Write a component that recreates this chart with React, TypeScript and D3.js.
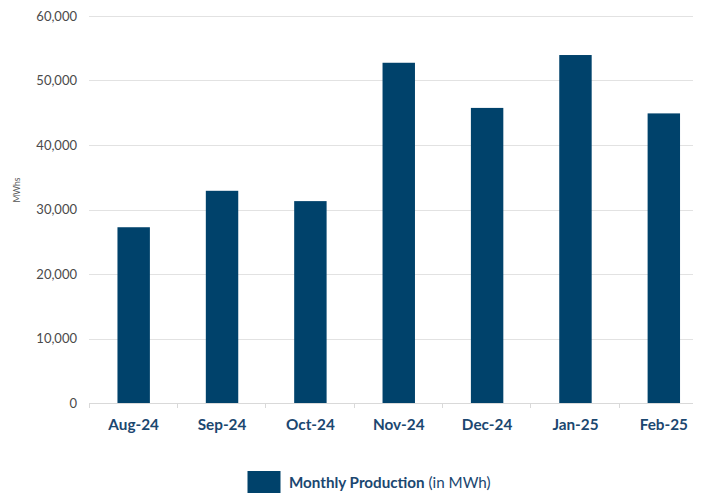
import React, { useRef, useEffect } from 'react';
import * as d3 from 'd3';

const months = ['Aug-24', 'Sep-24', 'Oct-24', 'Nov-24', 'Dec-24', 'Jan-25', 'Feb-25'];
const production = [27250, 32900, 31300, 52750, 45750, 53950, 44900];
const yTicks = [0, 10000, 20000, 30000, 40000, 50000, 60000];

export default function App() {
    const svgRef = useRef<SVGSVGElement>(null);

    useEffect(() => {
        const width = 703, height = 493;
        const svg = d3.select(svgRef.current);
        svg.selectAll('*').remove();

        const navy = '#00426b';
        const font = 'Lato, "Open Sans", sans-serif';

        // plot area runs a bit past the right edge, like the original crop
        const x = d3.scaleBand()
            .domain(months)
            .range([89.5, 708])
            .paddingInner(0.633)
            .paddingOuter(0.3165);

        const y = d3.scaleLinear()
            .domain([0, 60000])
            .range([403, 16]);

        // gridlines
        svg.append('g')
            .selectAll('line')
            .data(yTicks.filter(d => d > 0))
            .enter().append('line')
            .attr('x1', 89).attr('x2', 693)
            .attr('y1', d => Math.round(y(d)) + 0.5)
            .attr('y2', d => Math.round(y(d)) + 0.5)
            .attr('stroke', '#e2e2e2')
            .attr('stroke-width', 1);

        // y tick labels
        svg.append('g')
            .selectAll('text')
            .data(yTicks)
            .enter().append('text')
            .attr('x', 77)
            .attr('y', d => y(d) + 4.5)
            .attr('text-anchor', 'end')
            .attr('font-family', font)
            .attr('font-size', 13)
            .attr('fill', '#4a4a4a')
            .text(d => d3.format(',')(d));

        // y axis title
        svg.append('text')
            .attr('transform', 'translate(20,190) rotate(-90)')
            .attr('text-anchor', 'middle')
            .attr('font-family', font)
            .attr('font-size', 8.5)
            .attr('fill', '#555')
            .text('MWhs');

        // bars
        svg.append('g')
            .selectAll('rect')
            .data(production)
            .enter().append('rect')
            .attr('x', (d, i) => x(months[i]) as number)
            .attr('y', d => y(d))
            .attr('width', x.bandwidth())
            .attr('height', d => y(0) - y(d))
            .attr('fill', navy);

        // x axis baseline + ticks
        const axis = svg.append('g');
        axis.append('line')
            .attr('x1', 89).attr('x2', 693)
            .attr('y1', 403.5).attr('y2', 403.5)
            .attr('stroke', '#d9d9d9');
        const step = x.step();
        axis.selectAll('line.tick')
            .data(d3.range(months.length + 1))
            .enter().append('line')
            .attr('class', 'tick')
            .attr('x1', i => Math.round(89.5 + i * step) - 0.5)
            .attr('x2', i => Math.round(89.5 + i * step) - 0.5)
            .attr('y1', 403).attr('y2', 408)
            .attr('stroke', '#d9d9d9');

        axis.selectAll('text')
            .data(months)
            .enter().append('text')
            .attr('x', d => (x(d) as number) + x.bandwidth() / 2)
            .attr('y', 430)
            .attr('text-anchor', 'middle')
            .attr('font-family', font)
            .attr('font-size', 15.3)
            .attr('font-weight', 'bold')
            .attr('fill', '#1b4770')
            .text(d => d);

        // legend
        const legend = svg.append('g');
        legend.append('rect')
            .attr('x', 247.5).attr('y', 471)
            .attr('width', 33).attr('height', 22)
            .attr('fill', navy);
        const lt = legend.append('text')
            .attr('x', 289)
            .attr('y', 488)
            .attr('font-family', font)
            .attr('font-size', 15.2)
            .attr('fill', '#1b4770');
        lt.append('tspan').attr('font-weight', 'bold').text('Monthly Production');
        lt.append('tspan').text(' (in MWh)');

        svg.attr('width', width).attr('height', height);
    }, []);

    return (
        <svg ref={svgRef} width={703} height={493}
            style={{ position: 'absolute', left: 0, top: 0 }} />
    );
}
